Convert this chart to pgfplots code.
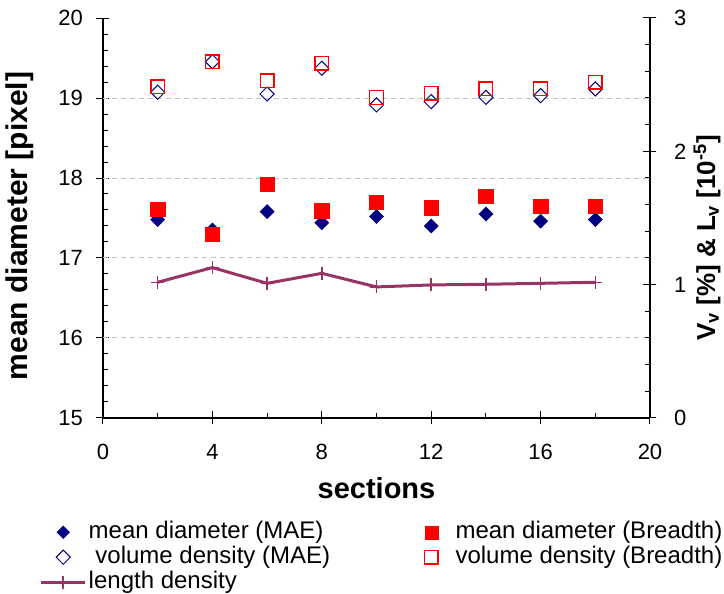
\documentclass[border=0pt]{standalone}
\usepackage{pgfplots}
\pgfplotsset{compat=1.18}
\usepackage{fontspec}
\setmainfont{Liberation Sans}
\definecolor{navyc}{RGB}{0,0,128}
\definecolor{redc}{RGB}{255,0,0}
\definecolor{plum}{RGB}{153,51,102}
\definecolor{gridc}{RGB}{192,192,192}
\pgfplotsset{
  wideleg/.style={legend image code/.code={\draw[mark repeat=2,mark phase=2,##1] plot coordinates {(0pt,0pt) (22pt,0pt) (44pt,0pt)};}},
  markleg/.style={legend image code/.code={\path (0pt,0pt) (44pt,0pt); \draw[##1, draw=none] plot[only marks] coordinates {(22pt,0pt)};}},
}
\begin{document}
\begin{tikzpicture}
\useasboundingbox (-103pt,-176pt) rectangle (621pt,418pt);
\begin{axis}[
  scale only axis, width=547pt, height=400pt,
  xmin=0, xmax=20, ymin=15, ymax=20,
  axis x line*=bottom, axis y line*=left,
  axis line style={line width=1.2pt, black},
  xtick={0,4,...,20}, minor x tick num=1,
  ytick={15,16,...,20}, minor y tick num=4,
  tick align=center, major tick length=13pt, minor tick length=5pt,
  tick style={line width=1pt, black},
  every minor y tick/.append style={xshift=2.5pt},
  every minor x tick/.append style={yshift=2.5pt},
  extra y ticks={16,17,18,19}, extra y tick labels={},
  extra y tick style={grid=major, major tick length=0pt},
  grid style={gridc, dash pattern=on 5pt off 4pt, line width=1pt},
  ticklabel style={font=\fontsize{22}{26}\selectfont},
  yticklabel style={xshift=-10pt},
  xticklabel style={yshift=-16pt},
  /pgf/number format/assume math mode=true,
  xlabel={sections}, ylabel={mean diameter [pixel]},
  xlabel style={font=\fontsize{29}{34}\selectfont\bfseries, at={(axis description cs:0.5,-0.175)}, anchor=center},
  ylabel style={font=\fontsize{30}{34}\selectfont\bfseries, at={(axis description cs:-0.152,0.48)}, anchor=center},
  clip=false,
]
\addplot[draw=none, mark=square*, mark size=5pt, mark options={rotate=45, fill=navyc, draw=navyc}]
  coordinates {(2,17.48) (4,17.35) (6,17.58) (8,17.44) (10,17.52) (12,17.40) (14,17.55) (16,17.46) (18,17.48)};
\addplot[draw=none, mark=square*, mark size=7.2pt, mark options={fill=redc, draw=redc}]
  coordinates {(2,17.61) (4,17.30) (6,17.92) (8,17.59) (10,17.70) (12,17.63) (14,17.77) (16,17.65) (18,17.65)};
\end{axis}
\begin{axis}[
  scale only axis, width=547pt, height=400pt,
  xmin=0, xmax=20, ymin=0, ymax=3,
  axis x line=none, axis y line*=right,
  axis line style={line width=1.2pt, black},
  ytick={0,1,2,3}, minor y tick num=4,
  tick align=center, major tick length=13pt, minor tick length=5pt,
  tick style={line width=1pt, black},
  every minor y tick/.append style={xshift=-2.5pt},
  ticklabel style={font=\fontsize{22}{26}\selectfont},
  yticklabel style={xshift=14pt},
  /pgf/number format/assume math mode=true,
  ylabel={V\textsubscript{v} [\%] \& L\textsubscript{v} [10\textsuperscript{-5}]},
  ylabel style={font=\fontsize{26}{30}\selectfont\bfseries, at={(axis description cs:1.1042,0.45)}, anchor=center, rotate=0},
  clip=false,
  legend columns=2,
  legend cell align=left,
  legend style={draw=none, fill=none, at={(axis description cs:-0.116,-0.2575)}, anchor=north west,
    font=\fontsize{24}{28}\selectfont, row sep=3pt, inner sep=0pt,
    nodes={text height=17pt, text depth=5pt, inner ysep=0pt},
    /tikz/every even column/.append style={column sep=77pt}},
]
\addlegendimage{mark=square*, mark size=4.5pt, mark options={rotate=45, fill=navyc, draw=navyc}, markleg}
\addlegendentry{mean diameter (MAE)}
\addlegendimage{mark=square*, mark size=6.5pt, mark options={fill=redc, draw=redc}, markleg}
\addlegendentry{mean diameter (Breadth)}
\addplot[draw=none, mark=square, mark size=5pt, mark options={rotate=45, draw=navyc, line width=1pt}, markleg]
  coordinates {(2,2.443) (4,2.672) (6,2.430) (8,2.623) (10,2.348) (12,2.373) (14,2.405) (16,2.418) (18,2.468)};
\addlegendentry{\ volume density (MAE)}
\addplot[draw=none, mark=square, mark size=6.8pt, mark options={draw=redc, line width=1.4pt}, markleg]
  coordinates {(2,2.485) (4,2.672) (6,2.530) (8,2.660) (10,2.403) (12,2.435) (14,2.470) (16,2.470) (18,2.518)};
\addlegendentry{volume density (Breadth)}
\addplot[plum, line width=3pt, mark=+, mark size=6.5pt, mark options={line width=1.5pt}, wideleg]
  coordinates {(2,1.018) (4,1.128) (6,1.010) (8,1.085) (10,0.983) (12,0.998) (14,1.003) (16,1.010) (18,1.018)};
\addlegendentry{length density}
\end{axis}
\end{tikzpicture}
\end{document}
